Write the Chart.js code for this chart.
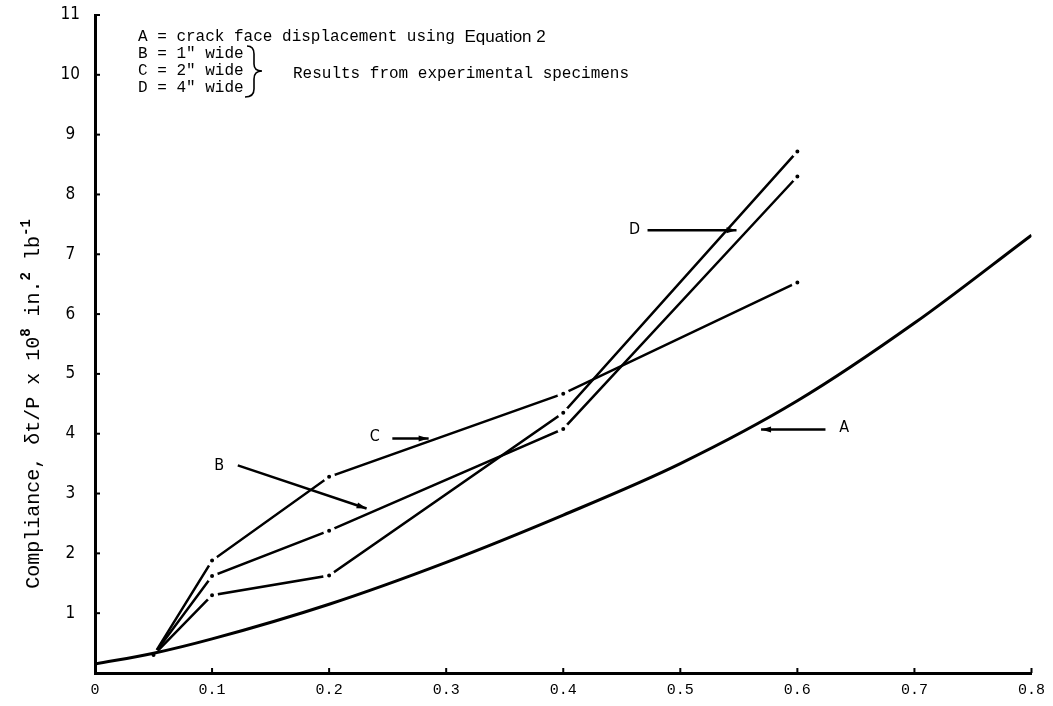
<!DOCTYPE html>
<html lang="en">
<head>
<meta charset="UTF-8">
<title>Compliance vs crack length</title>
<script src="https://cdn.jsdelivr.net/npm/chart.js"></script>
<style>
  html, body { margin: 0; padding: 0; background: #fff; }
</style>
</head>
<body>
<canvas id="myChart" width="1053" height="706"></canvas>
<script>
// axis ticks
const xTicks = [0, 0.1, 0.2, 0.3, 0.4, 0.5, 0.6, 0.7, 0.8];
const xTickLabels = ['0', '0.1', '0.2', '0.3', '0.4', '0.5', '0.6', '0.7', '0.8'];
const yTicks = [0, 1, 2, 3, 4, 5, 6, 7, 8, 9, 10, 11];
const yTickLabels = ['', '1', '2', '3', '4', '5', '6', '7', '8', '9', '10', '11'];

// curve A - crack face displacement (Equation 2)
const aX = [0, 0.05, 0.1, 0.2, 0.3, 0.4, 0.5, 0.6, 0.7, 0.8];
const aY = [0.15, 0.33, 0.57, 1.15, 1.85, 2.64, 3.5, 4.55, 5.85, 7.32];

// experimental specimens, read at the same crack lengths
const testX = [0.05, 0.1, 0.2, 0.4, 0.6];
const bY = [0.3, 1.62, 2.38, 4.08, 8.3];   // 1" wide
const cY = [0.3, 1.88, 3.28, 4.67, 6.53];  // 2" wide
const dY = [0.3, 1.3, 1.63, 4.35, 8.72];   // 4" wide

const mono = '"Liberation Mono", "DejaVu Sans Mono", monospace';
const narrow = '"Liberation Sans Narrow", "DejaVu Sans Condensed", "Liberation Sans", sans-serif';

// pointer labels, in data units
const pointers = [
    { text: 'B', at: [0.106, 3.47], from: [0.122, 3.47], to: [0.232, 2.75] },
    { text: 'C', at: [0.239, 3.94], from: [0.254, 3.92], to: [0.285, 3.92] },
    { text: 'D', at: [0.461, 7.41], from: [0.472, 7.40], to: [0.548, 7.40] },
    { text: 'A', at: [0.640, 4.09], from: [0.624, 4.07], to: [0.569, 4.07] }
];

function xy(xs, ys) {
    return xs.map((x, i) => ({ x: x, y: ys[i] }));
}

function testSet(label, ys) {
    return {
        label: label,
        data: xy(testX, ys),
        borderColor: '#000',
        borderWidth: 2.5,
        tension: 0,
        pointRadius: 4,
        pointBackgroundColor: '#000',
        pointBorderColor: '#fff',
        pointBorderWidth: 4
    };
}

function arrow(ctx, x1, y1, x2, y2) {
    ctx.beginPath();
    ctx.moveTo(x1, y1);
    ctx.lineTo(x2, y2);
    ctx.stroke();
    const a = Math.atan2(y2 - y1, x2 - x1);
    ctx.beginPath();
    ctx.moveTo(x2, y2);
    ctx.lineTo(x2 - 10 * Math.cos(a) + 3 * Math.sin(a), y2 - 10 * Math.sin(a) - 3 * Math.cos(a));
    ctx.lineTo(x2 - 10 * Math.cos(a) - 3 * Math.sin(a), y2 - 10 * Math.sin(a) + 3 * Math.cos(a));
    ctx.closePath();
    ctx.fill();
}

// inward ticks, notes, pointers and the rotated y title
const extras = {
    id: 'extras',
    afterDraw(chart) {
        const ctx = chart.ctx;
        const xs = chart.scales.x, ys = chart.scales.y;
        const area = chart.chartArea;
        ctx.save();
        ctx.fillStyle = '#000';
        ctx.strokeStyle = '#000';

        // tick marks
        ctx.lineWidth = 2;
        yTicks.forEach(v => {
            if (v === 0) return;
            const py = ys.getPixelForValue(v);
            ctx.beginPath(); ctx.moveTo(area.left, py); ctx.lineTo(area.left + 5, py); ctx.stroke();
        });
        xTicks.forEach(v => {
            if (v === 0) return;
            const px = xs.getPixelForValue(v);
            ctx.beginPath(); ctx.moveTo(px, area.bottom); ctx.lineTo(px, area.bottom - 5); ctx.stroke();
        });

        // pointers
        ctx.lineWidth = 2.5;
        ctx.font = '16px ' + narrow;
        ctx.textAlign = 'center';
        ctx.textBaseline = 'middle';
        pointers.forEach(p => {
            ctx.fillText(p.text, xs.getPixelForValue(p.at[0]), ys.getPixelForValue(p.at[1]));
            arrow(ctx, xs.getPixelForValue(p.from[0]), ys.getPixelForValue(p.from[1]),
                xs.getPixelForValue(p.to[0]), ys.getPixelForValue(p.to[1]));
        });

        // key text
        ctx.textAlign = 'left';
        ctx.textBaseline = 'alphabetic';
        ctx.font = '16px ' + mono;
        const first = 'A = crack face displacement using ';
        ctx.fillText(first, 138, 41);
        const w = ctx.measureText(first).width;
        ctx.font = '17px "Liberation Sans", Arial, sans-serif';
        ctx.fillText('Equation 2', 138 + w, 42);
        ctx.font = '16px ' + mono;
        ctx.fillText('B = 1" wide', 138, 58);
        ctx.fillText('C = 2" wide', 138, 75);
        ctx.fillText('D = 4" wide', 138, 92);
        ctx.fillText('Results from experimental specimens', 293, 78);

        // brace
        ctx.lineWidth = 1.6;
        ctx.beginPath();
        ctx.moveTo(247, 46);
        ctx.quadraticCurveTo(254, 46, 254, 54);
        ctx.lineTo(254, 64);
        ctx.quadraticCurveTo(254, 71, 262, 71);
        ctx.quadraticCurveTo(254, 71, 254, 79);
        ctx.lineTo(254, 89);
        ctx.quadraticCurveTo(254, 97, 245, 97);
        ctx.stroke();

        // y axis title with superscripts
        const runs = [
            { t: 'Compliance, \u03b4t/P x 10', sup: false },
            { t: '8', sup: true },
            { t: ' in.', sup: false },
            { t: '2', sup: true },
            { t: ' lb', sup: false },
            { t: '-1', sup: true }
        ];
        const norm = '20px ' + mono, small = 'bold 14px ' + mono;
        let total = 0;
        runs.forEach(r => { ctx.font = r.sup ? small : norm; total += ctx.measureText(r.t).width; });
        ctx.translate(39, 404);
        ctx.rotate(-Math.PI / 2);
        let cx = -total / 2;
        runs.forEach(r => {
            ctx.font = r.sup ? small : norm;
            ctx.fillText(r.t, cx, r.sup ? -9 : 0);
            cx += ctx.measureText(r.t).width;
        });
        ctx.restore();
    }
};

const ctx = document.getElementById('myChart').getContext('2d');

const myChart = new Chart(ctx, {
    type: 'line',
    data: {
        datasets: [
            {
                label: 'A',
                data: xy(aX, aY),
                borderColor: '#000',
                borderWidth: 3,
                pointRadius: 0,
                cubicInterpolationMode: 'monotone'
            },
            testSet('B', bY),
            testSet('C', cY),
            testSet('D', dY)
        ]
    },
    options: {
        responsive: false,
        animation: false,
        layout: { padding: { top: 15, right: 18, bottom: 0, left: 0 } },
        plugins: {
            legend: { display: false },
            tooltip: { enabled: false }
        },
        scales: {
            x: {
                type: 'linear',
                min: 0,
                max: 0.8,
                afterBuildTicks: s => { s.ticks = xTicks.map(v => ({ value: v })); },
                afterFit: s => { s.height = 33; },
                ticks: {
                    callback: (v, i) => xTickLabels[i],
                    font: { family: mono, size: 15 },
                    color: '#000',
                    padding: 8,
                    maxRotation: 0,
                    autoSkip: false
                },
                grid: { display: false, drawTicks: false },
                border: { display: true, color: '#000', width: 3 }
            },
            y: {
                type: 'linear',
                min: 0,
                max: 11,
                afterBuildTicks: s => { s.ticks = yTicks.map(v => ({ value: v })); },
                afterFit: s => { s.width = 95; },
                ticks: {
                    callback: (v, i) => yTickLabels[i],
                    font: { family: narrow, size: 17 },
                    color: '#000',
                    crossAlign: 'center',
                    padding: 1,
                    autoSkip: false
                },
                grid: { display: false, drawTicks: true, tickLength: 14 },
                border: { display: true, color: '#000', width: 3 }
            }
        }
    },
    plugins: [extras]
});
</script>
</body>
</html>
